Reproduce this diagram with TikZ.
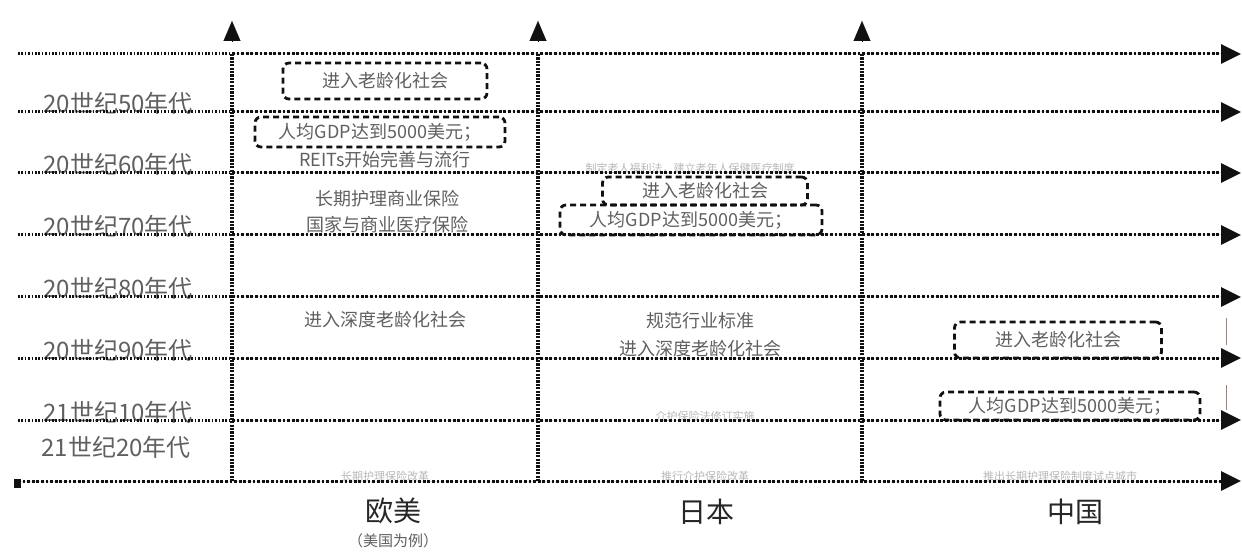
\documentclass[tikz,border=0pt]{standalone}
\usepackage{fontspec}
\setmainfont{Noto Sans CJK SC}
\usetikzlibrary{arrows.meta}
\definecolor{txtgray}{HTML}{606060}
\definecolor{linegray}{HTML}{111111}
\definecolor{faint}{HTML}{B8B8B8}
\definecolor{tick}{HTML}{A08070}
\tikzset{
  body/.style={text=txtgray, font=\fontsize{18}{22}\selectfont, inner sep=0pt},
  yearlbl/.style={text=txtgray, font=\fontsize{24}{28}\selectfont, inner sep=0pt, anchor=base},
  faintlbl/.style={text=faint, font=\fontsize{11}{13}\selectfont, inner sep=0pt},
  dbox/.style={draw=linegray, line width=2.8pt, dash pattern=on 6pt off 4pt, rounded corners=6pt, text=txtgray, font=\fontsize{18}{22}\selectfont, inner sep=0pt},
  leftdots/.style={draw=linegray, line width=3pt, dash pattern=on 1.6pt off 1.8pt},
  vdots/.style={draw=linegray, line width=3.2pt, dash pattern=on 2.2pt off 1.2pt},
  rarrow/.style={-{Triangle[length=20pt,width=19pt]}, line width=3pt, dash pattern=on 2.8pt off 1.8pt, draw=linegray, fill=linegray},
  uparrow/.style={-{Triangle[length=20pt,width=17pt]}, line width=0.1pt, draw=linegray, fill=linegray},
  column/.style={text=black!85, font=\fontsize{28}{32}\selectfont, inner sep=0pt},
  note/.style={text=txtgray, font=\fontsize{15}{18}\selectfont, inner sep=0pt}
}
\begin{document}
\begin{tikzpicture}[x=1pt,y=-1pt]
\useasboundingbox (0,0) rectangle (1242,553);
\fill[white] (0,0) rectangle (1242,553);

% faint cut-off texts (drawn first, lines overlay them)
\node[faintlbl] (f1) at (690,168) {制定老人福利法，建立老年人保健医疗制度};
\node[faintlbl] (f2) at (705,416) {介护保险法修订实施};
\node[faintlbl] (f3) at (385,476) {长期护理保险改革};
\node[faintlbl] (f4) at (705,476) {推行介护保险改革};
\node[faintlbl] (f5) at (1060,476) {推出长期护理保险制度试点城市};

% year labels
\node[yearlbl] (y50) at (118,113) {20世纪50年代};
\node[yearlbl] (y60) at (118,174) {20世纪60年代};
\node[yearlbl] (y70) at (118,236) {20世纪70年代};
\node[yearlbl] (y80) at (118,298) {20世纪80年代};
\node[yearlbl] (y90) at (118,359) {20世纪90年代};
\node[yearlbl] (y10) at (118,421) {21世纪10年代};
\node[text=txtgray, font=\fontsize{24}{28}\selectfont, inner sep=0pt] (y20) at (116,447) {21世纪20年代};

% coordinates
\foreach \i/\y in {1/54,2/112,3/173,4/235,5/297,6/358,7/420,8/481}{
  \coordinate (L\i) at (18,\y);
  \coordinate (M\i) at (232,\y);
  \coordinate (R\i) at (1241,\y);
}
% horizontal lines
\foreach \i in {1,...,7}{
  \draw[leftdots] (L\i) -- (M\i);
  \draw[rarrow] (M\i) -- (R\i);
}
\draw[rarrow] (L8) -- (R8);
\fill[linegray] (14,479) rectangle (21,488);

% vertical lines and up arrows
\foreach \j/\x in {1/232,2/538,3/862}{
  \coordinate (T\j) at (\x,54);
  \coordinate (B\j) at (\x,481);
  \coordinate (Ab\j) at (\x,42);
  \coordinate (At\j) at (\x,21);
  \draw[vdots] (T\j) -- (B\j);
  \draw[uparrow] (Ab\j) -- (At\j);
}

% Europe / USA column
\node[dbox, minimum width=204pt, minimum height=36pt] (e1) at (385,81) {进入老龄化社会};
\node[dbox, minimum width=250pt, minimum height=30pt] (e2) at (380,132) {人均GDP达到5000美元；};
\node[body] (e3) at (385,160) {REITs开始完善与流行};
\node[body] (e4) at (387,199) {长期护理商业保险};
\node[body] (e5) at (387,225) {国家与商业医疗保险};
\node[body] (e6) at (385,320) {进入深度老龄化社会};

% Japan column
\node[dbox, minimum width=205pt, minimum height=28pt] (j1) at (705,191) {进入老龄化社会};
\node[dbox, minimum width=262pt, minimum height=30pt] (j2) at (691,220) {人均GDP达到5000美元；};
\node[body] (j3) at (700,321) {规范行业标准};
\node[body] (j4) at (700,349) {进入深度老龄化社会};

% China column
\node[dbox, minimum width=207pt, minimum height=36pt] (c1) at (1058,340) {进入老龄化社会};
\node[dbox, minimum width=260pt, minimum height=28pt] (c2) at (1070,406) {人均GDP达到5000美元；};

% small ticks at right
\coordinate (k1) at (1226,318); \coordinate (k2) at (1226,345);
\coordinate (k3) at (1226,385); \coordinate (k4) at (1226,410);
\draw[tick, line width=1pt] (k1) -- (k2);
\draw[tick, line width=1pt] (k3) -- (k4);

% column labels
\node[column] (ce) at (393,511) {欧美};
\node[note] (cn) at (393,541) {（美国为例）};
\node[column] (cj) at (706,512) {日本};
\node[column] (cc) at (1075,512) {中国};
\end{tikzpicture}
\end{document}
